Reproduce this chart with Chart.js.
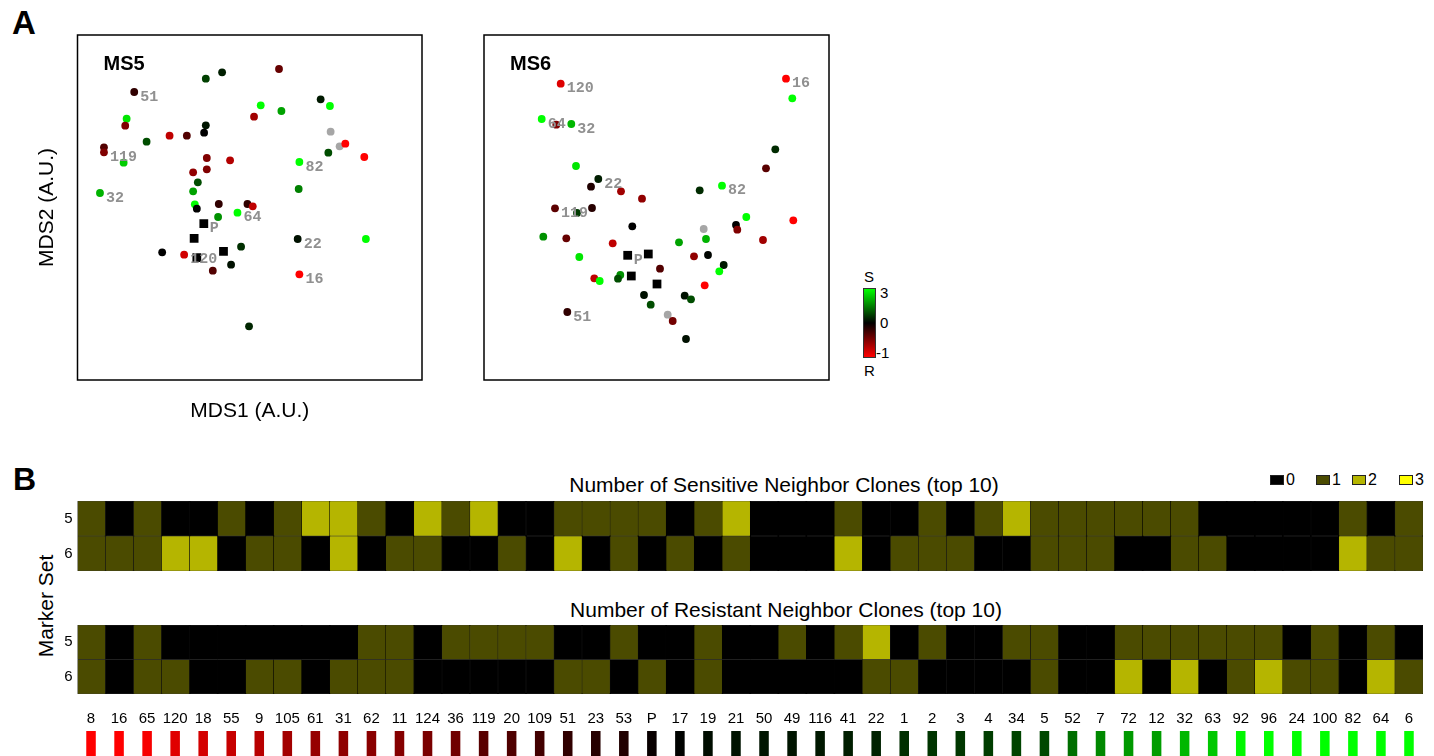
<!DOCTYPE html>
<html>
<head>
<meta charset="utf-8">
<title>MDS clones and neighbor counts</title>
<script src="https://cdn.jsdelivr.net/npm/chart.js@4.4.1/dist/chart.umd.min.js"></script>
<style>
  html, body { margin: 0; padding: 0; background: #fff; }
  body { position: relative; width: 1434px; height: 756px; overflow: hidden; font-family: "Liberation Sans", Arial, sans-serif; color: #000; }
  canvas { position: absolute; display: block; }
  .txt { position: absolute; line-height: 1; white-space: nowrap; }
  .key { position: absolute; width: 12px; height: 8px; border: 1px solid #222; }
</style>
</head>
<body>

<div class="txt" style="left:12px;top:6px;font-size:33px;font-weight:bold;">A</div>
<div class="txt" style="left:13px;top:463px;font-size:32px;font-weight:bold;">B</div>

<canvas id="ms5-chart" width="393" height="395" style="left:31px;top:33px;"></canvas>
<canvas id="ms6-chart" width="349" height="349" style="left:482px;top:33px;"></canvas>

<!-- colour key for the S/R score -->
<div style="position:absolute;left:863px;top:288px;width:11px;height:68px;border:1px solid #333;background:linear-gradient(to bottom,#00ff00 0%,#000 50%,#ff0000 100%);"></div>
<div class="txt" style="left:864px;top:269px;font-size:15px;">S</div>
<div class="txt" style="left:864px;top:363px;font-size:15px;">R</div>
<div class="txt" style="left:880px;top:285px;font-size:15px;">3</div>
<div class="txt" style="left:880px;top:315px;font-size:15px;">0</div>
<div class="txt" style="left:876px;top:345px;font-size:15px;">-1</div>

<div class="txt" style="left:784px;top:474px;font-size:21px;transform:translateX(-50%);">Number of Sensitive Neighbor Clones (top 10)</div>
<div class="txt" style="left:786px;top:599px;font-size:21px;transform:translateX(-50%);">Number of Resistant Neighbor Clones (top 10)</div>
<div class="txt" style="left:45px;top:606px;font-size:21px;transform:translate(-50%,-50%) rotate(-90deg);">Marker Set</div>

<div id="count-key"></div>

<canvas id="sens-chart" width="1383" height="72" style="left:40px;top:500px;"></canvas>
<canvas id="res-chart" width="1383" height="71" style="left:40px;top:624px;"></canvas>
<canvas id="clone-chart" width="1346" height="70" style="left:77px;top:700px;"></canvas>

<script>
(function() {
  Chart.defaults.font.family = '"Liberation Sans", Arial, sans-serif';
  Chart.defaults.color = '#000';

  /* ---- data ---- */
  // clones in S/R order (bottom row of panel B)
  var clones = ['8','16','65','120','18','55','9','105','61','31','62','11','124','36','119','20','109','51','23','53','P','17','19','21',
                '50','49','116','41','22','1','2','3','4','34','5','52','7','72','12','32','63','92','96','24','100','82','64','6'];
  // S/R score (-1 resistant ... 3 sensitive)
  var cloneScore = [-1,-1,-0.97,-0.88,-0.83,-0.78,-0.72,-0.64,-0.59,-0.56,-0.54,-0.52,-0.48,-0.44,-0.35,-0.31,-0.26,-0.19,-0.15,-0.13,-0.03,0.02,0.15,0.22,
                    0.25,0.25,0.28,0.35,0.4,0.55,0.62,0.65,0.72,0.8,0.85,1.3,1.6,1.8,1.85,2.15,2.35,2.9,3,3,3,3,3,3];

  // sensitive / resistant neighbours among top 10, per marker set
  var sensMS5 = [1,0,1,0,0,1,0,1,2,2,1,0,2,1,2,0,0,1,1,1,1,0,1,2, 0,0,0,1,0,0,1,0,1,2,1,1,1,1,1,1,0,0,0,0,0,1,0,1];
  var sensMS6 = [1,1,1,2,2,0,1,1,0,2,0,1,1,0,0,1,0,2,0,1,0,1,0,1, 0,0,0,2,0,1,1,1,0,0,1,1,1,0,0,1,1,0,0,0,0,2,1,1];
  var resMS5  = [1,0,1,0,0,0,0,0,0,0,1,1,0,1,1,1,1,0,0,1,0,0,1,0, 0,1,0,1,2,0,1,0,0,1,1,0,0,1,1,1,1,1,1,0,1,0,1,0];
  var resMS6  = [1,0,1,1,0,0,1,1,0,1,1,1,0,0,0,0,0,1,1,0,1,0,1,0, 0,0,0,0,1,1,0,0,0,0,1,0,0,2,0,2,0,1,2,1,1,0,2,1];
  var countLevels = [0, 1, 2, 3];

  // MDS coordinates (A.U.), marker set 5
  var ms5X = [128.5,144.8,201.8,56.8,183.5,204.2,243.5,252.8,176.8,49.2,47.8,128.5,126.8,92.2,109.5,69.2,26.5,26.5,46.2,253.5,262.5,268.2,251.2,287.2,
              129.5,152.8,115.8,129.5,222.2,120.5,115.8,221.5,22.5,117.5,119.5,141.5,170.2,175.5,160.2,140.8,220.5,288.8,84.8,106.8,163.8,153.8,135.5,222.2,171.8];
  var ms5Y = [301.3,307.7,311,288,274.7,269,280.7,274,263.3,261.3,254.3,254.7,247.3,244.3,244.3,238.3,232.7,227.7,217.3,248.3,233.7,236.3,227.3,223,
              222,219.7,207.7,210.7,218,197.7,188.7,191,187,175.7,171.3,176,176,173.7,167.3,163,141,141,127.7,125.3,133.3,115.3,109.3,105.7,53.7];
  var ms5Score = [0.75,0.35,-0.4,-0.19,3,1.9,0.3,3,-0.63,2.7,-0.5,0.25,0,-0.75,-0.32,0.9,-0.32,-0.5,2.4,null,null,-1,0.9,-1,
                  -0.5,-0.7,-0.57,-0.5,3,0.9,1.9,1.5,2.1,3,0,-0.19,-0.19,-0.75,3,1.7,0.2,3,0,-0.82,0.55,0.2,-0.32,-1,0.45];
  var ms5Tag = ['','','','51','','','','','','','','','','','','','','119','','','','','','',
                '','','','','82','','','','32','','','','','','64','','22','','','120','','','','16',''];
  var ms5ParentX = [126.5,116.8,146.2,119.5];
  var ms5ParentY = [156.3,141.7,128.7,122.3];

  // MDS coordinates (A.U.), marker set 6
  var ms6X = [76.7,302,308.3,57.7,72.3,87.3,291.3,282,92,114.3,107,137,158,215.7,238,71,108,93,148.3,262.3,309.3,219.7,252,253.3,
              59.3,82.3,128.7,195,222,279,95.3,210,224,176,239.7,235.3,110.3,115.7,136.3,134,220.7,160,166.7,200.7,207,183.7,188.7,83.3,202];
  var ms6Y = [296.3,301.3,281.7,261,255.3,256,230.7,211.7,214,201,193.3,188.7,181.3,189.7,194.3,171.7,172,167,153.7,163,159.7,151,155,150.3,
              143.3,141.7,136.7,137.7,141,140,123,123.7,125,111.3,115,108.7,101.7,99,105,101.3,94.7,85,75.3,84.3,80.7,65.3,59,68,41];
  var ms6Score = [-0.87,-1,3,3,-0.5,2.15,0.5,-0.35,2.7,0.35,-0.12,-0.63,-0.57,0.5,3,-0.36,-0.15,0.7,0,3,-1,null,0,-0.5,
                  1.7,-0.4,-0.75,1.9,2.1,-0.63,2.7,-0.57,0.05,-0.32,0.3,3,-0.75,3,1.7,0.9,-1,0.2,0.9,0.2,0.9,null,-0.45,-0.19,0.2];
  var ms6Tag = ['120','16','','64','','32','','','','22','','','','','82','119','','','','','','','','',
                '','','','','','','','','','','','','','','','','','','','','','','','51',''];
  var ms6ParentX = [143.7,164.3,147.3,173];
  var ms6ParentY = [124.7,126,104,96];
  var parentTag = ['P','','',''];

  /* ---- colours ---- */
  function scoreColor(s) {
    if (s === null) return '#a6a6a6';
    if (s < 0) return 'rgb(' + Math.round(-s * 255) + ',0,0)';
    return 'rgb(0,' + Math.round(s / 3 * 255) + ',0)';
  }
  var countPalette = ['#000000', '#4b4b00', '#b5b500', '#ffff00'];
  function countColor(n) { return countPalette[n]; }

  function toPoints(xs, ys) {
    return xs.map(function(x, i) { return { x: x, y: ys[i] }; });
  }

  // grey clone numbers next to points, panel name and frame
  var mdsDecor = {
    id: 'mdsDecor',
    afterDatasetsDraw: function(chart, args, opts) {
      var ctx = chart.ctx, area = chart.chartArea;
      ctx.save();
      ctx.font = 'bold 15px "Liberation Mono", "Courier New", monospace';
      ctx.fillStyle = '#909090';
      ctx.textBaseline = 'middle';
      chart.data.datasets.forEach(function(ds, i) {
        var meta = chart.getDatasetMeta(i);
        (ds.tags || []).forEach(function(t, j) {
          if (!t) return;
          var el = meta.data[j];
          ctx.fillText(t, el.x + 6, el.y + 5);
        });
      });
      ctx.font = 'bold 20px "Liberation Sans", Arial, sans-serif';
      ctx.fillStyle = '#000';
      ctx.textBaseline = 'alphabetic';
      ctx.fillText(opts.name, area.left + 26, area.top + 35);
      ctx.lineWidth = 1.5;
      ctx.strokeStyle = '#000';
      ctx.strokeRect(area.left, area.top, area.right - area.left, area.bottom - area.top);
      ctx.restore();
    }
  };

  /* ---- 1. MDS panels ---- */
  function makeMds(id, name, xs, ys, scores, tags, px, py, withTitles) {
    var axis = function(text, fit) {
      var a = {
        min: 0, max: 345,
        display: withTitles,
        title: { display: withTitles, text: text, font: { size: 21 }, color: '#000' },
        ticks: { display: false },
        grid: { display: false },
        border: { display: false }
      };
      if (withTitles) a.afterFit = fit;
      return a;
    };
    new Chart(document.getElementById(id), {
      type: 'scatter',
      data: {
        datasets: [{
          label: 'P',
          data: toPoints(px, py),
          tags: parentTag,
          pointStyle: 'rect',
          pointRadius: 6.2,
          pointBackgroundColor: '#000',
          pointBorderWidth: 0,
          order: 0
        }, {
          label: 'clones',
          data: toPoints(xs, ys),
          tags: tags,
          pointRadius: 3.9,
          pointBackgroundColor: scores.map(scoreColor),
          pointBorderColor: scores.map(scoreColor),
          pointBorderWidth: 0,
          order: 1
        }]
      },
      options: {
        responsive: false,
        animation: false,
        events: [],
        layout: {
          autoPadding: false,
          padding: withTitles ? { top: 2, right: 2, bottom: 0, left: 0 } : 2
        },
        plugins: {
          legend: { display: false },
          tooltip: { enabled: false },
          mdsDecor: { name: name }
        },
        scales: {
          x: axis('MDS1 (A.U.)', function(s) { s.height = 48; }),
          y: axis('MDS2 (A.U.)', function(s) { s.width = 46.5; })
        }
      },
      plugins: [mdsDecor]
    });
  }

  makeMds('ms5-chart', 'MS5', ms5X, ms5Y, ms5Score, ms5Tag, ms5ParentX, ms5ParentY, true);
  makeMds('ms6-chart', 'MS6', ms6X, ms6Y, ms6Score, ms6Tag, ms6ParentX, ms6ParentY, false);

  /* ---- 2. neighbour heatmaps ---- */
  function makeHeat(id, rowMS5, rowMS6) {
    var row = function(label, counts, span) {
      return {
        label: label,
        data: counts.map(function() { return span; }),
        backgroundColor: counts.map(countColor),
        borderColor: '#000',
        borderWidth: 0.5,
        borderSkipped: false,
        grouped: false,
        barPercentage: 1,
        categoryPercentage: 1
      };
    };
    new Chart(document.getElementById(id), {
      type: 'bar',
      data: {
        labels: clones,
        datasets: [row('5', rowMS5, [1, 2]), row('6', rowMS6, [0, 1])]
      },
      options: {
        responsive: false,
        animation: false,
        events: [],
        layout: { padding: { top: 1, bottom: 1, left: 0, right: 0 } },
        plugins: { legend: { display: false }, tooltip: { enabled: false } },
        scales: {
          x: { display: false },
          y: {
            min: 0, max: 2,
            grid: { display: false, drawTicks: false },
            border: { display: false },
            afterBuildTicks: function(s) { s.ticks = [{ value: 0.5 }, { value: 1.5 }]; },
            afterFit: function(s) { s.width = 37.5; s.paddingTop = 0; s.paddingBottom = 0; },
            ticks: {
              padding: 5,
              font: { size: 15 },
              callback: function(v) { return v > 1 ? '5' : '6'; }
            }
          }
        }
      }
    });
  }

  makeHeat('sens-chart', sensMS5, sensMS6);
  makeHeat('res-chart', resMS5, resMS6);

  // count key (0 1 2 3)
  var keyLeft = [1270, 1316, 1352, 1399];
  var keyBox = document.getElementById('count-key');
  countLevels.forEach(function(n, i) {
    var b = document.createElement('div');
    b.className = 'key';
    b.style.left = keyLeft[i] + 'px';
    b.style.top = '475px';
    b.style.background = countColor(n);
    keyBox.appendChild(b);
    var t = document.createElement('div');
    t.className = 'txt';
    t.style.left = (keyLeft[i] + 16) + 'px';
    t.style.top = '472px';
    t.style.fontSize = '16px';
    t.textContent = String(n);
    keyBox.appendChild(t);
  });

  /* ---- 3. clone labels + S/R colour chips ---- */
  new Chart(document.getElementById('clone-chart'), {
    type: 'bar',
    data: {
      labels: clones,
      datasets: [{
        label: 'S/R score',
        data: cloneScore.map(function() { return 1; }),
        backgroundColor: cloneScore.map(scoreColor),
        barPercentage: 0.34,
        categoryPercentage: 1
      }]
    },
    options: {
      responsive: false,
      animation: false,
      events: [],
      layout: { padding: 0 },
      plugins: { legend: { display: false }, tooltip: { enabled: false } },
      scales: {
        x: {
          position: 'top',
          grid: { display: false, drawTicks: false },
          border: { display: false },
          ticks: { autoSkip: false, maxRotation: 0, padding: 3, font: { size: 15 } },
          afterFit: function(s) { s.height = 31; }
        },
        y: { display: false, min: 0, max: 1 }
      }
    }
  });
})();
</script>
</body>
</html>
